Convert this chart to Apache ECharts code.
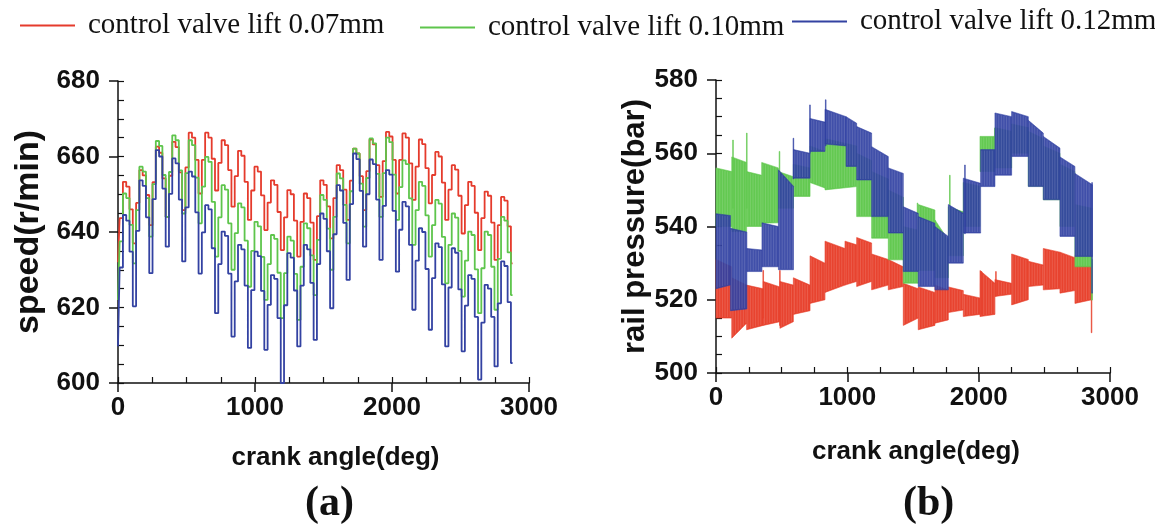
<!DOCTYPE html>
<html>
<head>
<meta charset="utf-8">
<script src="https://cdn.jsdelivr.net/npm/echarts@6/dist/echarts.min.js"></script>
<style>html,body{margin:0;padding:0;background:#fff}#c{width:1155px;height:526px}</style>
</head>
<body>
<div id="c"></div>
<script>
// ---------- data ----------
const seriesNames = ['control valve lift 0.07mm', 'control valve lift 0.10mm', 'control valve lift 0.12mm'];
const xTicks = [0, 1000, 2000, 3000];
const speedTicks = [600, 620, 640, 660, 680];
const pressureTicks = [500, 520, 540, 560, 580];
const angleStep = 24; // crank-angle sampling of the speed traces (deg)

// (a) engine speed, r/min, one value every 24 deg from 0 to 2880
const speed007 = [
632,643.7,653.3,652,646, 637,647.7,656.4,655,649.8, 641.8,653.2,662.6,661,654.2, 644,654.9,663.9,662.5,655.8,
645.8,657.1,666.3,665,659.1, 650.2,659.1,666.3,665,659.4, 651,658.3,664.3,663,656.4, 646.7,654.8,661.5,660.2,653.3,
643.2,651,657.3,656,649.7, 640.5,647.8,653.7,652.5,645.3, 635.2,643.9,651.1,650,643, 633.5,642.7,650.2,649,642.5,
632.6,644.2,653.7,652.5,646.8, 638.3,649,657.7,656.4,651.2, 643.2,653.6,662.1,660.8,654.8, 645.8,656.1,664.5,663.2,657.7,
649.3,658.8,666.5,665.3,659.1, 650.2,659.1,666.1,665,658.2, 648.5,657.3,664.5,663.3,656.9, 647.6,655.1,661.2,660,653.1,
643.2,651.2,657.7,656.5,649.6, 639.6,647.1,653.3,652.2,645.1, 635.2,643.7,650.7,649.6,642.5, 632.6,641.8,649.3,648.3,641.5,
631.7];
const speed010 = [
622,637.5,650.2,649,641.9, 631.7,645.8,657.3,656,649, 638.8,652.7,664.1,662.8,655.1, 644,655.9,665.6,664.3,656.3,
644.9,655.6,664.3,663,654.4, 642.3,652,659.9,658.6,648, 633.5,643.9,652.4,651.2,642.3, 630,639.7,647.6,646.5,637.7,
625.5,635,642.7,641.5,633.4, 622,631.5,639.2,638.2,629.2, 617.2,629.1,638.8,637.7,628.9, 616.7,630.8,642.3,641,633.8,
623.3,637.9,649.8,648.5,640.9, 630,644,655.5,654.2,647.2, 637,650.8,662.1,660.8,652.8, 641.4,654.3,664.8,663.5,655.4,
644,655.6,665,663.8,655.2, 643.2,651.9,659,658,648.9, 636.6,645.8,653.3,652.2,644.4, 633.5,641.8,648.5,647.5,638.7,
626.4,636.6,644.9,643.8,635, 622.9,632.4,640.1,639.2,630.1, 618.5,630.4,640.1,639.2,630.8, 619.4,632.9,644,643,634.6,
623.3];
const speed012 = [
609.7,630.6,644.5,643,634.8, 620.3,640.3,653.7,652.2,643.9, 629.1,648.7,661.7,660,651.5, 636.1,650.1,659.5,658.2,648.6,
632.2,646.5,656,654.7,645.2, 629,639.9,647.1,646,635.7, 618.5,631.5,640.1,639,629, 612.3,626.9,636.6,635.4,625.8,
609.3,624.6,634.8,633.6,624.4, 608.8,620.7,628.6,627.6,617.2, 600,620.6,634.4,633.2,624.5, 609.7,625.8,636.6,635.4,626.5,
611.4,631.5,644.9,643.5,634.9, 619.8,639.4,652.4,651,642.4, 627.3,647.4,660.8,659.3,650.9, 636.1,650,659.2,658,648.6,
632.6,646.9,656.4,655.2,645.6, 629.5,640.6,648,646.8,636.6, 619.4,632.4,641,640,630.2, 614.1,627.8,637,636,626.1,
609.7,625.3,635.7,634.5,624.8, 608.4,620.5,628.6,627.6,617.5, 600.9,616,626,625,617.5, 604.4,621.1,632.2,631,621.4,
605.3];

// (b) rail pressure, bar: bands [angleStart, angleEnd, lowStart, highStart, lowEnd, highEnd]
const rail007 = [
[0,120,515,531,515,529],[120,233,509.5,526,513.6,524],[233,360,511.8,524,513,523],[360,487,513,525,514,523.5],
[487,589,512.2,525,514,524],[589,716,516,526,517,524],[716,830,519,532,520,530],[830,982,522,536,524,534],
[982,1071,524,536,525,535],[1071,1185,523.6,537,525,535.5],[1185,1312,522.7,532.5,524,531],[1312,1426,522.7,531,523.6,529],
[1426,1540,513,524.5,515,523],[1540,1667,511.8,523.5,513,522],[1667,1769,513.6,524,514.5,522.7],[1769,1883,516.5,523.5,517.2,522.5],
[1883,2010,515.4,521.5,516,520.5],[2010,2124,515.4,528,516,524.5],[2124,2251,520.9,525.5,521.5,524.5],[2251,2378,518.6,532.5,520,531],
[2378,2492,523.6,530.5,524,529.5],[2492,2619,522.7,534,523,533],[2619,2733,521.8,533,522.5,531.5],[2733,2862,519,532,520,530],
[357,362,515,528,515,528],[484,489,513,528,513,528],[2019,2024,516,527.7,516,527.7],[2129,2134,521,527.7,521,527.7],[2857,2862,511,522,511,522]
];
const rail010 = [
[0,120,540,556,540,555],[120,233,538.6,559,538.6,557.5],[233,348,540,555,540,554],[348,475,540.9,557.5,541,556],
[475,589,545,555,545,553.6],[589,716,548.2,557,548.2,556],[716,830,552,562,550.5,560.5],[830,1071,550,564,550.9,562],
[1071,1185,542.7,560,542.7,558],[1185,1312,536.8,555,536.8,553],[1312,1426,530.9,550,530.9,548],[1426,1540,524.5,540,524.5,539],
[1540,1667,528,546,528,544.5],[1667,1769,526,541.8,526,536.3],[1769,1883,532,545.4,532,544],[1883,2010,540,552,540,551],
[2010,2124,555,564.6,555,564.6],[2124,2251,556,567,556,566],[2251,2378,560,568,560,567],[2378,2492,551,566,551,564],
[2492,2619,547.3,562,547.3,560],[2619,2733,540,557,540,555],[2733,2862,529,546,529,545],[2858,2866,519.9,531,519.9,531],
[127,132,545,563.6,545,563.6],[232,237,545,565.5,545,565.5],[481,486,548,560.5,548,560.5],[1532,1537,530,546.4,530,546.4],
[1778,1783,535,554,535,554],[2121,2126,556,566.8,556,566.8]
];
const rail012 = [
[0,110,523,543.5,524,543],[110,235,517,539.5,517.5,538.5],[235,350,527.7,534,527.7,533.6],[350,475,529,541,529,540],
[475,590,528.2,555.5,528.2,551],[590,716,553.2,561,553.2,560],[716,830,560.5,569.5,560.5,568.5],[830,990,562.5,572,562,570],
[990,1071,556.4,570,556.4,568.2],[1071,1185,552.7,567.3,552.7,565.5],[1185,1312,542.7,561.8,542.7,559.1],[1312,1426,538.2,556,538.2,554.5],
[1426,1540,527.7,545.4,527.7,543.6],[1540,1667,523.6,542.7,523.6,540.9],[1667,1769,522.7,540,522.7,537.3],[1769,1883,530,546,530,543.6],
[1883,2015,538.2,553.2,538.2,551.8],[2015,2124,550.9,561,550.9,561],[2124,2251,554,571,554,570],[2251,2378,559.1,571.4,559.1,570],
[2378,2492,550.9,569,550.9,565.5],[2492,2619,547.3,564.6,547.3,561.4],[2619,2733,537.3,559,537.3,556.4],[2733,2866,531.8,554.5,531.8,551.4],
[587,592,553,564.1,553,564.1],[713,718,560,573.2,560,573.2],[833,838,562,574.6,562,574.6],[1893,1898,538,556.8,538,556.8],
[2861,2866,521.8,552,521.8,552]
];

// ---------- styling ----------
const colors = ['#e53b2c', '#5ec54c', '#3342a2'];
const bandColors = ['#e8432f', '#63c951', 'rgba(48,64,162,0.92)'];

function pairs(vals) { return vals.map((v, i) => [i * angleStep, v]); }

function bandSeries(name, segs, color, z) {
  return {
    type: 'custom', name: name, xAxisIndex: 2, yAxisIndex: 2, silent: true, z: z,
    data: segs,
    encode: { x: [0, 1], y: [2, 3, 4, 5] },
    renderItem: function (params, api) {
      const a = api.coord([api.value(0), api.value(2)]);
      const b = api.coord([api.value(0), api.value(3)]);
      const c = api.coord([api.value(1), api.value(5)]);
      const d = api.coord([api.value(1), api.value(4)]);
      const children = [{ type: 'polygon', shape: { points: [a, b, c, d] }, style: { fill: color, stroke: color, lineWidth: 0.6 } }];
      const w = d[0] - a[0];
      for (let x = a[0] + 1.2; x < d[0] - 0.5; x += 2.6) {
        const t = (x - a[0]) / w;
        const yTop = b[1] + (c[1] - b[1]) * t;
        const yBot = a[1] + (d[1] - a[1]) * t;
        children.push({ type: 'line', shape: { x1: x, y1: yTop + 1, x2: x, y2: yBot - 1 }, style: { stroke: 'rgba(255,255,255,0.16)', lineWidth: 0.9 } });
      }
      return { type: 'group', children: children };
    }
  };
}

const tickFont = { fontFamily: 'Liberation Sans', fontWeight: 'bold', fontSize: 26, color: '#111' };
const nameFont = { fontFamily: 'Liberation Sans', fontWeight: 'bold', color: '#111' };
const axisLineStyle = { onZero: false, lineStyle: { color: '#111', width: 1.5 } };

function xAxisCfg(gi, gap, pad) {
  return {
    type: 'value', gridIndex: gi, position: 'bottom', min: 0, max: 3000, interval: 1000,
    name: 'crank angle(deg)', nameLocation: 'middle', nameGap: gap,
    nameTextStyle: Object.assign({ fontSize: 26, padding: pad }, nameFont),
    axisLine: axisLineStyle,
    axisTick: { show: true, inside: false, length: 9, lineStyle: { color: '#111', width: 1.5 } },
    splitLine: { show: false },
    axisLabel: Object.assign({ margin: 12, formatter: v => xTicks.includes(v) ? String(v) : '' }, tickFont)
  };
}
function xMinorCfg(gi) {
  return {
    type: 'value', gridIndex: gi, position: 'bottom', min: 0, max: 3000, interval: 250,
    axisLine: { show: false, onZero: false }, axisLabel: { show: false }, splitLine: { show: false },
    axisTick: { show: true, inside: true, length: 6, lineStyle: { color: '#111', width: 1.2 } }
  };
}
function yAxisCfg(gi, min, max, ticks, name, gap, size) {
  return {
    type: 'value', gridIndex: gi, position: 'left', min: min, max: max, interval: 20,
    name: name, nameLocation: 'middle', nameGap: gap, nameRotate: 90,
    nameTextStyle: Object.assign({ fontSize: size }, nameFont),
    axisLine: axisLineStyle,
    axisTick: { show: true, inside: false, length: 9, lineStyle: { color: '#111', width: 1.5 } },
    splitLine: { show: false },
    axisLabel: Object.assign({ margin: 18, formatter: v => ticks.includes(v) ? String(v) : '' }, tickFont)
  };
}
function yMinorCfg(gi, min, max) {
  return {
    type: 'value', gridIndex: gi, position: 'left', min: min, max: max, interval: 5,
    axisLine: { show: false, onZero: false }, axisLabel: { show: false }, splitLine: { show: false },
    axisTick: { show: true, inside: true, length: 6, lineStyle: { color: '#111', width: 1.2 } }
  };
}

function legendCfg(name, left, top) {
  return {
    data: [name], left: left, top: top, icon: 'rect', itemWidth: 55, itemHeight: 2,
    selectedMode: false,
    textStyle: { fontFamily: 'Liberation Serif', fontSize: 29, color: '#111', padding: [0, 0, 0, 8] }
  };
}

const lineData = [speed007, speed010, speed012];
const labelStyle = { fontFamily: 'Liberation Serif', fontWeight: 'bold', fontSize: 42, color: '#111' };

const option = {
  animation: false,
  backgroundColor: '#fff',
  title: [
    { text: '(a)', left: 300, top: 478, textStyle: labelStyle },
    { text: '(b)', left: 898, top: 478, textStyle: labelStyle }
  ],
  legend: [
    legendCfg(seriesNames[0], 15, 6),
    legendCfg(seriesNames[1], 415, 8),
    legendCfg(seriesNames[2], 787, 2)
  ],
  grid: [
    { left: 118, top: 81, width: 411, height: 302 },
    { left: 716, top: 80, width: 394, height: 293 }
  ],
  xAxis: [xAxisCfg(0, 62, [0, 0, 0, 24]), xMinorCfg(0), xAxisCfg(1, 66, [0, 0, 0, 6]), xMinorCfg(1)],
  yAxis: [
    yAxisCfg(0, 600, 680, speedTicks, 'speed(r/min)', 72, 34), yMinorCfg(0, 600, 680),
    yAxisCfg(1, 500, 580, pressureTicks, 'rail pressure(bar)', 62, 31), yMinorCfg(1, 500, 580)
  ],
  series: [
    ...lineData.map((d, i) => ({
      type: 'line', name: seriesNames[i], xAxisIndex: 0, yAxisIndex: 0,
      data: pairs(d), step: 'middle', showSymbol: false, symbol: 'none',
      lineStyle: { color: colors[i], width: 1.8 }, itemStyle: { color: colors[i] }, z: 2 + i
    })),
    bandSeries('rail-0.07', rail007, bandColors[0], 2),
    bandSeries('rail-0.10', rail010, bandColors[1], 3),
    bandSeries('rail-0.12', rail012, bandColors[2], 4)
  ]
};

const chart = echarts.init(document.getElementById('c'));
chart.setOption(option);
</script>
</body>
</html>
